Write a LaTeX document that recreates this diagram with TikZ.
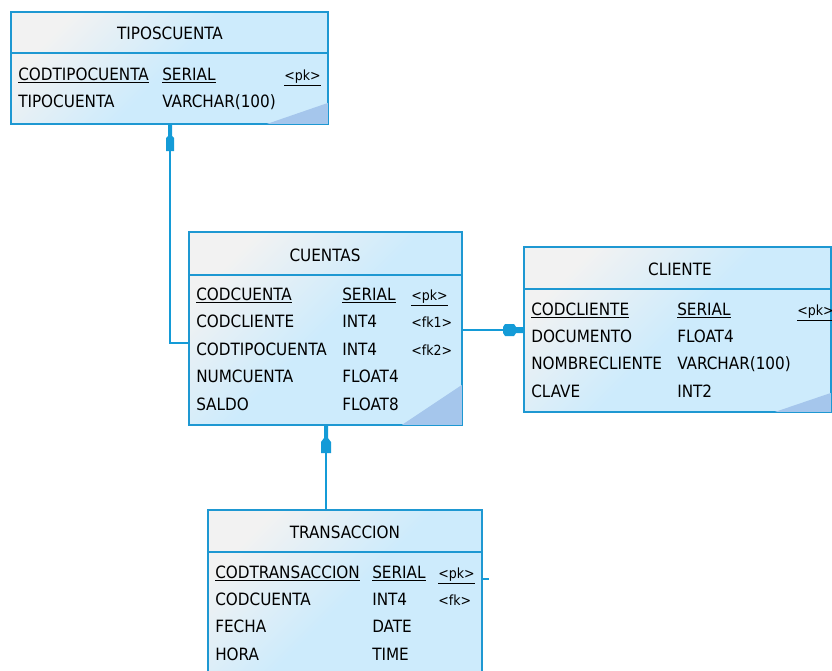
\documentclass[tikz,border=0pt]{standalone}
\usepackage{fontspec}
\setmainfont{DejaVu Sans Condensed}
\usetikzlibrary{fit,calc}
\definecolor{bordercol}{RGB}{30,152,210}
\definecolor{bodyblue}{RGB}{205,235,252}
\definecolor{headgrey}{RGB}{242,242,242}
\definecolor{cornerblue}{RGB}{165,198,236}
\definecolor{conncol}{RGB}{20,155,215}
\tikzset{
  tbl/.style={draw=bordercol, line width=1.1pt, inner sep=0pt,
    top color=headgrey, bottom color=bodyblue, middle color=bodyblue, shading angle=45},
  sep/.style={draw=bordercol, line width=1.1pt},
  corner/.style={fill=cornerblue},
  ttl/.style={anchor=base, inner sep=0pt, font=\fontsize{12.7pt}{15pt}\selectfont},
  fld/.style={anchor=base west, inner sep=0pt, font=\fontsize{12.7pt}{15pt}\selectfont},
  key/.style={anchor=base west, inner sep=0pt, font=\fontsize{10.5pt}{12pt}\selectfont},
  conn/.style={draw=conncol, line width=1.2pt},
  refmark/.style={fill=conncol},
}
\begin{document}
\begin{tikzpicture}[x=0.75pt,y=-0.75pt]
\useasboundingbox (0,0) rectangle (832,671);
% ---------- tables ----------
\node[tbl, fit={(11,12) (328,124)}] (t1) {};
\node[tbl, fit={(189,232) (462,425)}] (t2) {};
\node[tbl, fit={(524,247) (831,412)}] (t3) {};
\node[tbl, fit={(208,510) (482,690)}] (t4) {};
% dark corners
\fill[corner] ($(t1.south east)+(-0.8,-0.8)$) -- ++(-61,0) -- ++(61,-21) -- cycle;
\fill[corner] ($(t2.south east)+(-0.8,-0.8)$) -- ++(-60,0) -- ++(60,-40) -- cycle;
\fill[corner] ($(t3.south east)+(-0.8,-0.8)$) -- ++(-56,0) -- ++(56,-19) -- cycle;
% header separators
\draw[sep] (t1.west |- 0,53) -- (t1.east |- 0,53);
\draw[sep] (t2.west |- 0,275) -- (t2.east |- 0,275);
\draw[sep] (t3.west |- 0,289) -- (t3.east |- 0,289);
\draw[sep] (t4.west |- 0,552) -- (t4.east |- 0,552);
% ---------- TIPOSCUENTA ----------
\node[ttl] (t1h) at (170,39) {TIPOSCUENTA};
\node[fld] (t1a1) at (18,80) {\underline{CODTIPOCUENTA}};
\node[fld] (t1a2) at (162,80) {\underline{SERIAL}};
\node[key] (t1a3) at (284,80) {\underline{<pk>}};
\node[fld] (t1b1) at (18,107) {TIPOCUENTA};
\node[fld] (t1b2) at (162,107) {VARCHAR(100)};
% ---------- CUENTAS ----------
\node[ttl] (t2h) at (325,261) {CUENTAS};
\node[fld] (t2a1) at (196,300) {\underline{CODCUENTA}};
\node[fld] (t2a2) at (342,300) {\underline{SERIAL}};
\node[key] (t2a3) at (411,300) {\underline{<pk>}};
\node[fld] (t2b1) at (196,327) {CODCLIENTE};
\node[fld] (t2b2) at (342,327) {INT4};
\node[key] (t2b3) at (411,327) {<fk1>};
\node[fld] (t2c1) at (196,355) {CODTIPOCUENTA};
\node[fld] (t2c2) at (342,355) {INT4};
\node[key] (t2c3) at (411,355) {<fk2>};
\node[fld] (t2d1) at (196,382) {NUMCUENTA};
\node[fld] (t2d2) at (342,382) {FLOAT4};
\node[fld] (t2e1) at (196,410) {SALDO};
\node[fld] (t2e2) at (342,410) {FLOAT8};
% ---------- CLIENTE ----------
\node[ttl] (t3h) at (680,275) {CLIENTE};
\node[fld] (t3a1) at (531,315) {\underline{CODCLIENTE}};
\node[fld] (t3a2) at (677,315) {\underline{SERIAL}};
\node[key] (t3a3) at (797,315) {\underline{<pk>}};
\node[fld] (t3b1) at (531,342) {DOCUMENTO};
\node[fld] (t3b2) at (677,342) {FLOAT4};
\node[fld] (t3c1) at (531,369) {NOMBRECLIENTE};
\node[fld] (t3c2) at (677,369) {VARCHAR(100)};
\node[fld] (t3d1) at (531,397) {CLAVE};
\node[fld] (t3d2) at (677,397) {INT2};
% ---------- TRANSACCION ----------
\node[ttl] (t4h) at (345,538) {TRANSACCION};
\node[fld] (t4a1) at (215,578) {\underline{CODTRANSACCION}};
\node[fld] (t4a2) at (372,578) {\underline{SERIAL}};
\node[key] (t4a3) at (438,578) {\underline{<pk>}};
\node[fld] (t4b1) at (215,605) {CODCUENTA};
\node[fld] (t4b2) at (372,605) {INT4};
\node[key] (t4b3) at (438,605) {<fk>};
\node[fld] (t4c1) at (215,632) {FECHA};
\node[fld] (t4c2) at (372,632) {DATE};
\node[fld] (t4d1) at (215,660) {HORA};
\node[fld] (t4d2) at (372,660) {TIME};
% ---------- connectors ----------
\coordinate (c1) at (170,343);
\coordinate (c2) at (0,330);
\coordinate (c3) at (326,0);
\coordinate (c4) at (0,579);
\coordinate (c4e) at (489,579);
\draw[conn] (t1.south -| c1) |- (t2.west |- c1);
\draw[conn] (t2.east |- c2) -- (t3.west |- c2);
\draw[conn] (t4.north -| c3) -- (t2.south -| c3);
\draw[conn] (t4.east |- c4) -- (c4e);
% reference marks
\fill[refmark] (168,124) -- (172,124) -- (172,136) -- (174,138) -- (174,151) -- (166,151) -- (166,138) -- (168,136) -- cycle;
\fill[refmark] (324,426) -- (328,426) -- (328,438) -- (331,442) -- (331,453) -- (321,453) -- (321,442) -- (324,438) -- cycle;
\fill[refmark] (503,327) -- (505,324) -- (514,324) -- (516,327) -- (524,327) -- (524,333) -- (516,333) -- (514,336) -- (505,336) -- (503,333) -- cycle;
\end{tikzpicture}
\end{document}
